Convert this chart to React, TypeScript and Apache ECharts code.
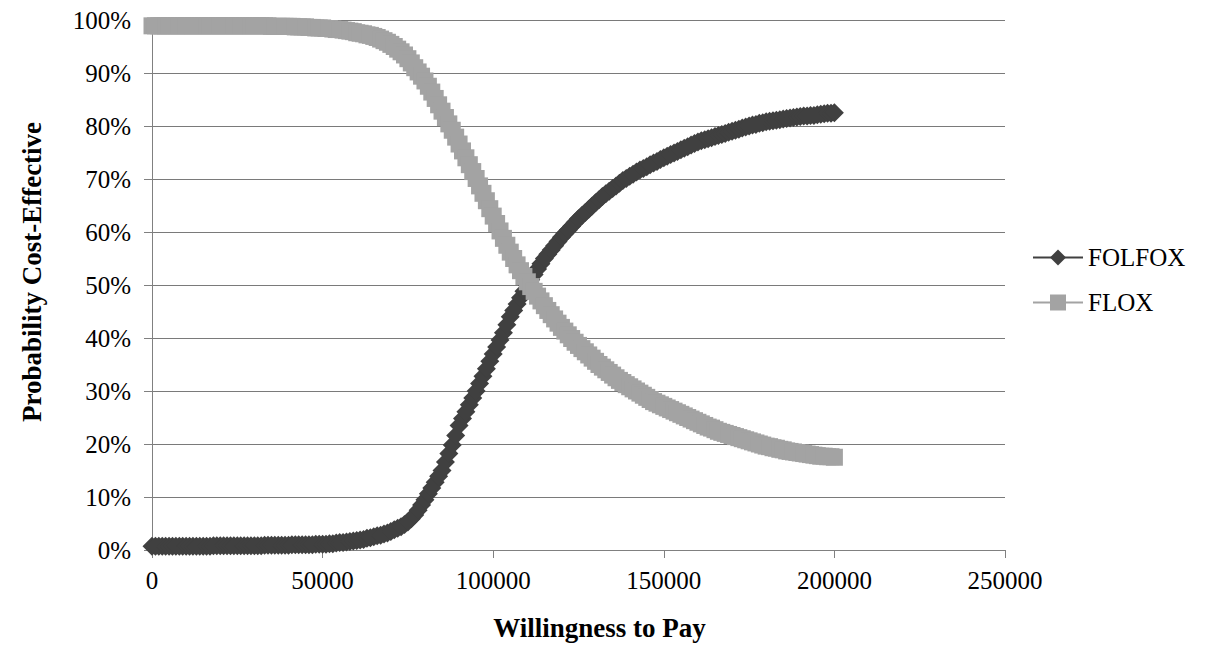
import React, { useEffect, useRef } from "react";
import * as echarts from "echarts";

// Willingness to pay, sampled every 1000 from 0 to 200000
const wtpStep = 1000;

const folfox: number[] = [
  0.7, 0.7, 0.7, 0.7, 0.7, 0.7, 0.7, 0.7, 0.7, 0.7,
  0.7, 0.7, 0.7, 0.7, 0.7, 0.7, 0.7, 0.7, 0.8, 0.8,
  0.8, 0.8, 0.8, 0.8, 0.8, 0.8, 0.8, 0.8, 0.8, 0.8,
  0.8, 0.8, 0.8, 0.9, 0.9, 0.9, 0.9, 0.9, 0.9, 0.9,
  0.9, 1.0, 1.0, 1.0, 1.0, 1.0, 1.0, 1.0, 1.1, 1.1,
  1.1, 1.1, 1.2, 1.2, 1.3, 1.4, 1.4, 1.5, 1.6, 1.7,
  1.8, 1.9, 2.0, 2.2, 2.3, 2.5, 2.7, 2.8, 3.0, 3.2,
  3.5, 3.8, 4.1, 4.4, 4.8, 5.3, 5.9, 6.6, 7.5, 8.5,
  9.5, 10.6, 11.7, 12.8, 13.9, 15.0, 16.6, 18.2, 19.8, 21.6,
  23.5, 24.8, 26.1, 27.4, 28.7, 30.0, 31.4, 32.8, 34.2, 35.6,
  37.0, 38.3, 39.6, 41.0, 42.5, 44.0, 45.2, 46.4, 47.6, 48.8,
  50.0, 51.0, 52.0, 53.0, 54.0, 55.0, 55.8, 56.6, 57.4, 58.2,
  59.0, 59.7, 60.4, 61.1, 61.8, 62.5, 63.1, 63.7, 64.3, 64.9,
  65.5, 66.1, 66.7, 67.2, 67.7, 68.2, 68.7, 69.2, 69.7, 70.1,
  70.5, 70.9, 71.3, 71.7, 72.0, 72.3, 72.7, 73.0, 73.3, 73.7,
  74.0, 74.3, 74.6, 74.9, 75.2, 75.5, 75.8, 76.1, 76.4, 76.7,
  77.0, 77.2, 77.4, 77.6, 77.8, 78.0, 78.2, 78.4, 78.6, 78.8,
  79.0, 79.2, 79.4, 79.6, 79.8, 80.0, 80.2, 80.3, 80.5, 80.6,
  80.8, 80.9, 81.0, 81.1, 81.2, 81.3, 81.4, 81.5, 81.6, 81.7,
  81.8, 81.9, 81.9, 82.0, 82.0, 82.1, 82.2, 82.3, 82.4, 82.4,
  82.5,
];

const flox: number[] = [
  98.9, 98.9, 98.9, 98.9, 98.9, 98.9, 98.9, 98.9, 98.9, 98.9,
  98.9, 98.9, 98.9, 98.9, 98.9, 98.9, 98.9, 98.9, 98.9, 98.9,
  98.9, 98.9, 98.9, 98.9, 98.9, 98.9, 98.9, 98.9, 98.9, 98.9,
  98.9, 98.9, 98.9, 98.9, 98.9, 98.8, 98.8, 98.8, 98.8, 98.8,
  98.8, 98.8, 98.7, 98.7, 98.7, 98.7, 98.6, 98.6, 98.5, 98.5,
  98.5, 98.4, 98.4, 98.3, 98.2, 98.2, 98.1, 98.0, 97.9, 97.8,
  97.6, 97.5, 97.4, 97.2, 97.1, 96.9, 96.7, 96.4, 96.1, 95.8,
  95.4, 95.0, 94.5, 94.0, 93.4, 92.7, 91.9, 91.0, 90.2, 89.4,
  88.5, 87.5, 86.4, 85.2, 84.0, 82.8, 81.6, 80.4, 79.2, 77.9,
  76.6, 75.3, 74.0, 72.7, 71.4, 70.1, 68.7, 67.3, 65.9, 64.4,
  63.0, 61.6, 60.2, 58.8, 57.5, 56.2, 55.0, 53.8, 52.7, 51.6,
  50.6, 49.7, 48.8, 47.9, 47.0, 46.1, 45.2, 44.4, 43.6, 42.8,
  42.0, 41.3, 40.6, 39.9, 39.2, 38.6, 38.0, 37.4, 36.8, 36.2,
  35.6, 35.0, 34.5, 34.0, 33.5, 33.0, 32.5, 32.0, 31.6, 31.2,
  30.8, 30.4, 30.0, 29.6, 29.2, 28.8, 28.4, 28.0, 27.7, 27.4,
  27.1, 26.8, 26.5, 26.2, 25.9, 25.6, 25.3, 25.0, 24.7, 24.4,
  24.1, 23.8, 23.5, 23.2, 23.0, 22.7, 22.4, 22.2, 22.0, 21.8,
  21.6, 21.4, 21.2, 21.0, 20.8, 20.6, 20.4, 20.2, 20.0, 19.8,
  19.6, 19.5, 19.3, 19.2, 19.0, 18.9, 18.7, 18.6, 18.5, 18.4,
  18.3, 18.2, 18.1, 18.0, 17.9, 17.8, 17.7, 17.7, 17.6, 17.6,
  17.5,
];

const seriesNames = ["FOLFOX", "FLOX"];
const xAxisTitle = "Willingness to Pay";
const yAxisTitle = "Probability Cost-Effective";

const FONT = "'Liberation Serif', 'Times New Roman', serif";

export default function App() {
  const ref = useRef<HTMLDivElement>(null);

  useEffect(() => {
    if (!ref.current) return;
    const chart = echarts.init(ref.current, undefined, { renderer: "svg" });
    const toPairs = (arr: number[]) => arr.map((v, i) => [i * wtpStep, v]);

    chart.setOption({
      animation: false,
      backgroundColor: "#ffffff",
      textStyle: { fontFamily: FONT, color: "#000" },
      grid: {
        left: 152,
        right: 200,
        top: 20,
        bottom: 103,
        containLabel: false,
        outerBoundsMode: "none",
      },
      legend: {
        orient: "vertical",
        left: 1027,
        top: 240,
        itemWidth: 50,
        itemHeight: 20,
        itemGap: 20,
        textStyle: { fontFamily: FONT, fontSize: 25, color: "#000" },
        data: seriesNames,
      },
      xAxis: {
        type: "value",
        min: 0,
        max: 250000,
        interval: 50000,
        name: xAxisTitle,
        nameLocation: "middle",
        nameGap: 64,
        nameTextStyle: {
          fontFamily: FONT,
          fontSize: 27,
          fontWeight: "bold",
          color: "#000",
          padding: [0, 0, 0, 42],
        },
        axisLine: { show: true, lineStyle: { color: "#808080", width: 1 } },
        axisTick: { show: true, inside: false, length: 8, lineStyle: { color: "#808080" } },
        axisLabel: {
          fontFamily: FONT,
          fontSize: 25,
          color: "#000",
          margin: 18,
          formatter: (v: number) => String(v),
        },
        splitLine: { show: false },
      },
      yAxis: {
        type: "value",
        min: 0,
        max: 100,
        interval: 10,
        name: yAxisTitle,
        nameLocation: "middle",
        nameGap: 107,
        nameRotate: 90,
        nameTextStyle: {
          fontFamily: FONT,
          fontSize: 27,
          fontWeight: "bold",
          color: "#000",
          padding: [0, 0, 0, 26],
        },
        axisLine: { show: true, lineStyle: { color: "#808080", width: 1 } },
        axisTick: { show: true, inside: false, length: 8, lineStyle: { color: "#808080" } },
        axisLabel: { fontFamily: FONT, fontSize: 25, color: "#000", margin: 21, formatter: "{value}%" },
        splitLine: { show: true, lineStyle: { color: "#7a7a7a", width: 1 } },
      },
      series: [
        {
          name: seriesNames[0],
          type: "line",
          data: toPairs(folfox),
          symbol: "diamond",
          symbolSize: 19,
          showAllSymbol: true,
          color: "#404040",
          lineStyle: { color: "#404040", width: 4 },
          itemStyle: { color: "#404040" },
          z: 2,
        },
        {
          name: seriesNames[1],
          type: "line",
          data: toPairs(flox),
          symbol: "rect",
          symbolSize: 17,
          showAllSymbol: true,
          color: "#a3a3a3",
          lineStyle: { color: "#a3a3a3", width: 4 },
          itemStyle: { color: "#a3a3a3" },
          z: 3,
        },
      ],
    });

    return () => chart.dispose();
  }, []);

  return <div ref={ref} style={{ width: 1205, height: 653, position: "absolute", left: 0, top: 0 }} />;
}
